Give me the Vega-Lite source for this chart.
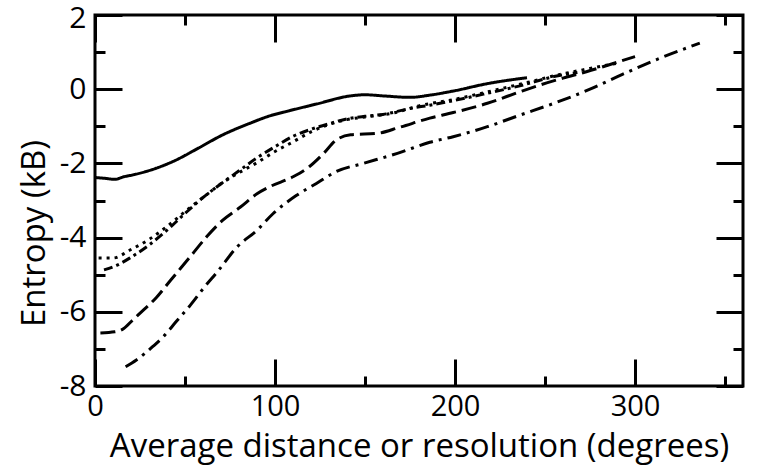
{
  "$schema": "https://vega.github.io/schema/vega-lite/v6.json",
  "width": 648,
  "height": 371,
  "autosize": {"type": "none"},
  "padding": {"left": 95, "top": 15, "right": 27, "bottom": 83},
  "background": "white",
  "config": {
    "view": {"stroke": "black", "strokeWidth": 3},
    "font": "Open Sans",
    "axis": {"domain": false, "grid": false, "tickColor": "black", "tickWidth": 3, "labelColor": "black", "titleColor": "black", "labelFlush": false, "labelOverlap": false, "titleFontWeight": "normal"}
  },
  "datasets": {
    "curves": [
      {"series": "solid", "x": 0, "y": -2.38},
      {"series": "solid", "x": 5, "y": -2.4},
      {"series": "solid", "x": 11, "y": -2.43},
      {"series": "solid", "x": 16, "y": -2.36},
      {"series": "solid", "x": 21, "y": -2.31},
      {"series": "solid", "x": 34, "y": -2.13},
      {"series": "solid", "x": 45, "y": -1.91},
      {"series": "solid", "x": 57, "y": -1.6},
      {"series": "solid", "x": 71, "y": -1.23},
      {"series": "solid", "x": 86, "y": -0.92},
      {"series": "solid", "x": 97, "y": -0.72},
      {"series": "solid", "x": 108, "y": -0.58},
      {"series": "solid", "x": 123, "y": -0.4},
      {"series": "solid", "x": 142, "y": -0.18},
      {"series": "solid", "x": 150, "y": -0.15},
      {"series": "solid", "x": 160, "y": -0.18},
      {"series": "solid", "x": 175, "y": -0.22},
      {"series": "solid", "x": 186, "y": -0.16},
      {"series": "solid", "x": 199, "y": -0.05},
      {"series": "solid", "x": 218, "y": 0.15},
      {"series": "solid", "x": 240, "y": 0.31},

      {"series": "dotted", "x": 2, "y": -4.55},
      {"series": "dotted", "x": 10, "y": -4.55},
      {"series": "dotted", "x": 20, "y": -4.32},
      {"series": "dotted", "x": 30, "y": -4.05},
      {"series": "dotted", "x": 40, "y": -3.7},
      {"series": "dotted", "x": 50, "y": -3.3},
      {"series": "dotted", "x": 60, "y": -2.92},
      {"series": "dotted", "x": 70, "y": -2.55},
      {"series": "dotted", "x": 80, "y": -2.25},
      {"series": "dotted", "x": 90, "y": -1.98},
      {"series": "dotted", "x": 100, "y": -1.68},
      {"series": "dotted", "x": 110, "y": -1.42},
      {"series": "dotted", "x": 120, "y": -1.15},
      {"series": "dotted", "x": 130, "y": -0.95},
      {"series": "dotted", "x": 140, "y": -0.82},
      {"series": "dotted", "x": 150, "y": -0.75},
      {"series": "dotted", "x": 165, "y": -0.65},
      {"series": "dotted", "x": 180, "y": -0.45},
      {"series": "dotted", "x": 200, "y": -0.27},
      {"series": "dotted", "x": 220, "y": -0.05},
      {"series": "dotted", "x": 240, "y": 0.18},
      {"series": "dotted", "x": 255, "y": 0.36},
      {"series": "dotted", "x": 275, "y": 0.56},
      {"series": "dotted", "x": 292, "y": 0.72},

      {"series": "dashdot", "x": 5, "y": -4.87},
      {"series": "dashdot", "x": 12, "y": -4.75},
      {"series": "dashdot", "x": 20, "y": -4.53},
      {"series": "dashdot", "x": 30, "y": -4.2},
      {"series": "dashdot", "x": 40, "y": -3.8},
      {"series": "dashdot", "x": 50, "y": -3.35},
      {"series": "dashdot", "x": 60, "y": -2.92},
      {"series": "dashdot", "x": 70, "y": -2.55},
      {"series": "dashdot", "x": 80, "y": -2.2},
      {"series": "dashdot", "x": 90, "y": -1.85},
      {"series": "dashdot", "x": 100, "y": -1.55},
      {"series": "dashdot", "x": 110, "y": -1.27},
      {"series": "dashdot", "x": 120, "y": -1.08},
      {"series": "dashdot", "x": 130, "y": -0.93},
      {"series": "dashdot", "x": 140, "y": -0.8},
      {"series": "dashdot", "x": 150, "y": -0.73},
      {"series": "dashdot", "x": 160, "y": -0.68},
      {"series": "dashdot", "x": 175, "y": -0.52},
      {"series": "dashdot", "x": 186, "y": -0.43},
      {"series": "dashdot", "x": 200, "y": -0.3},
      {"series": "dashdot", "x": 218, "y": -0.11},
      {"series": "dashdot", "x": 236, "y": 0.09},
      {"series": "dashdot", "x": 255, "y": 0.34},
      {"series": "dashdot", "x": 268, "y": 0.45},

      {"series": "longdash", "x": 3, "y": -6.57},
      {"series": "longdash", "x": 11, "y": -6.54},
      {"series": "longdash", "x": 16, "y": -6.45},
      {"series": "longdash", "x": 21, "y": -6.22},
      {"series": "longdash", "x": 27, "y": -5.95},
      {"series": "longdash", "x": 34, "y": -5.62},
      {"series": "longdash", "x": 42, "y": -5.15},
      {"series": "longdash", "x": 53, "y": -4.51},
      {"series": "longdash", "x": 62, "y": -3.98},
      {"series": "longdash", "x": 71, "y": -3.53},
      {"series": "longdash", "x": 81, "y": -3.17},
      {"series": "longdash", "x": 90, "y": -2.82},
      {"series": "longdash", "x": 97, "y": -2.63},
      {"series": "longdash", "x": 110, "y": -2.36},
      {"series": "longdash", "x": 119, "y": -2.09},
      {"series": "longdash", "x": 127, "y": -1.73},
      {"series": "longdash", "x": 134, "y": -1.37},
      {"series": "longdash", "x": 142, "y": -1.23},
      {"series": "longdash", "x": 157, "y": -1.19},
      {"series": "longdash", "x": 169, "y": -1.03},
      {"series": "longdash", "x": 186, "y": -0.78},
      {"series": "longdash", "x": 199, "y": -0.63},
      {"series": "longdash", "x": 218, "y": -0.38},
      {"series": "longdash", "x": 236, "y": -0.07},
      {"series": "longdash", "x": 247, "y": 0.11},
      {"series": "longdash", "x": 260, "y": 0.3},
      {"series": "longdash", "x": 273, "y": 0.47},
      {"series": "longdash", "x": 287, "y": 0.68},
      {"series": "longdash", "x": 300, "y": 0.88},

      {"series": "dashdotlong", "x": 17, "y": -7.48},
      {"series": "dashdotlong", "x": 23, "y": -7.3},
      {"series": "dashdotlong", "x": 32, "y": -6.94},
      {"series": "dashdotlong", "x": 38, "y": -6.67},
      {"series": "dashdotlong", "x": 45, "y": -6.27},
      {"series": "dashdotlong", "x": 53, "y": -5.82},
      {"series": "dashdotlong", "x": 61, "y": -5.32},
      {"series": "dashdotlong", "x": 68, "y": -4.92},
      {"series": "dashdotlong", "x": 79, "y": -4.25},
      {"series": "dashdotlong", "x": 90, "y": -3.8},
      {"series": "dashdotlong", "x": 99, "y": -3.35},
      {"series": "dashdotlong", "x": 112, "y": -2.86},
      {"series": "dashdotlong", "x": 123, "y": -2.54},
      {"series": "dashdotlong", "x": 134, "y": -2.22},
      {"series": "dashdotlong", "x": 149, "y": -2.0},
      {"series": "dashdotlong", "x": 168, "y": -1.73},
      {"series": "dashdotlong", "x": 186, "y": -1.43},
      {"series": "dashdotlong", "x": 199, "y": -1.28},
      {"series": "dashdotlong", "x": 218, "y": -1.01},
      {"series": "dashdotlong", "x": 236, "y": -0.7},
      {"series": "dashdotlong", "x": 255, "y": -0.38},
      {"series": "dashdotlong", "x": 275, "y": 0.0},
      {"series": "dashdotlong", "x": 293, "y": 0.4},
      {"series": "dashdotlong", "x": 312, "y": 0.8},
      {"series": "dashdotlong", "x": 336, "y": 1.24}
    ],
    "anchor": [{"x": 0, "y": -8}]
  },
  "layer": [
    {
      "data": {"name": "curves"},
      "mark": {"type": "line", "color": "black", "strokeWidth": 3, "interpolate": "monotone"},
      "encoding": {
        "x": {"field": "x", "type": "quantitative", "scale": {"domain": [0, 360], "nice": false, "zero": false},
              "axis": {"orient": "bottom", "values": [0, 100, 200, 300], "tickSize": -27, "labelPadding": 33, "labelFontSize": 29, "title": "Average distance or resolution (degrees)", "titleFontSize": 33, "titlePadding": 9}},
        "y": {"field": "y", "type": "quantitative", "scale": {"domain": [-8, 2], "nice": false, "zero": false},
              "axis": {"orient": "left", "values": [-8, -6, -4, -2, 0, 2], "tickSize": -27, "labelPadding": 36, "labelFontSize": 30, "labelOffset": {"condition": {"test": "datum.value === 2", "value": 3}, "value": 0}, "labelExpr": "datum.value < 0 ? '-' + abs(datum.value) : '' + datum.value", "title": "Entropy (kB)", "titleFontSize": 33, "titlePadding": 8, "titleY": 218}},
        "strokeDash": {"field": "series", "type": "nominal", "legend": null,
              "scale": {"domain": ["solid", "dotted", "dashdot", "longdash", "dashdotlong"], "range": [[1, 0], [3, 5], [9, 4, 3, 4], [15, 6], [14, 6, 3, 6]]}}
      }
    },
    {
      "data": {"name": "anchor"},
      "mark": {"type": "point", "opacity": 0},
      "encoding": {
        "x": {"field": "x", "type": "quantitative", "scale": {"domain": [0, 360], "nice": false, "zero": false},
              "axis": {"orient": "top", "values": [0, 100, 200, 300], "tickSize": -27, "labels": false, "title": null}},
        "y": {"field": "y", "type": "quantitative", "scale": {"domain": [-8, 2], "nice": false, "zero": false},
              "axis": {"orient": "right", "values": [-8, -6, -4, -2, 0, 2], "tickSize": -27, "labels": false, "title": null}}
      }
    },
    {
      "data": {"name": "anchor"},
      "mark": {"type": "point", "opacity": 0},
      "encoding": {
        "x": {"field": "x", "type": "quantitative", "scale": {"domain": [0, 360], "nice": false, "zero": false},
              "axis": {"orient": "bottom", "values": [50, 150, 250, 350], "tickSize": -10, "labels": false, "title": null}},
        "y": {"field": "y", "type": "quantitative", "scale": {"domain": [-8, 2], "nice": false, "zero": false},
              "axis": {"orient": "left", "values": [-7, -5, -3, -1, 1], "tickSize": -10, "labels": false, "title": null}}
      }
    },
    {
      "data": {"name": "anchor"},
      "mark": {"type": "point", "opacity": 0},
      "encoding": {
        "x": {"field": "x", "type": "quantitative", "scale": {"domain": [0, 360], "nice": false, "zero": false},
              "axis": {"orient": "top", "values": [50, 150, 250, 350], "tickSize": -10, "labels": false, "title": null}},
        "y": {"field": "y", "type": "quantitative", "scale": {"domain": [-8, 2], "nice": false, "zero": false},
              "axis": {"orient": "right", "values": [-7, -5, -3, -1, 1], "tickSize": -10, "labels": false, "title": null}}
      }
    }
  ],
  "resolve": {"axis": {"x": "independent", "y": "independent"}}
}
